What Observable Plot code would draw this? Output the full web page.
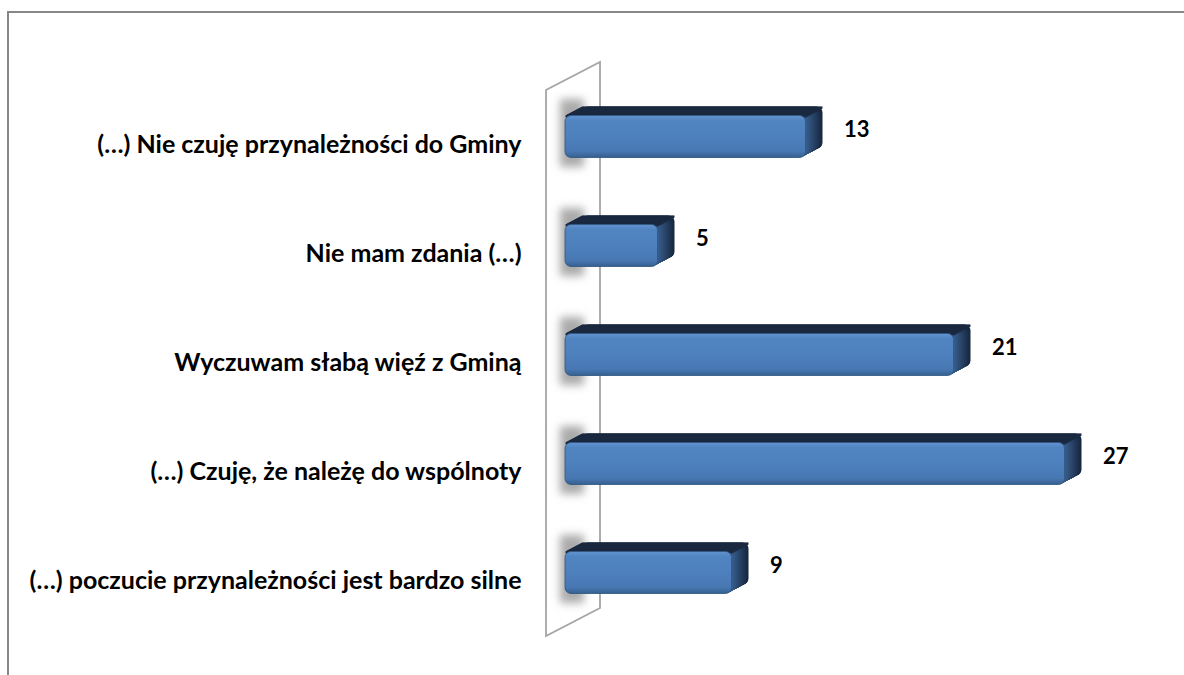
<!DOCTYPE html>
<html><head><meta charset="utf-8">
<script src="https://cdn.jsdelivr.net/npm/d3@7"></script>
<script src="https://cdn.jsdelivr.net/npm/@observablehq/plot@0.6"></script>
<style>
html,body{margin:0;padding:0;background:#fff;overflow:hidden;}
#wrap{position:relative;width:1184px;height:675px;}
#wrap svg{position:absolute;left:0;top:0;}
#border{position:absolute;left:7px;top:11px;width:1300px;height:800px;border-top:2px solid #878787;border-left:2px solid #878787;pointer-events:none;}
</style></head><body><div id="wrap"></div>
<script>
const categories = [
  "(…) Nie czuję przynależności do Gminy",
  "Nie mam zdania (…)",
  "Wyczuwam słabą więź z Gminą",
  "(…) Czuję, że należę do wspólnoty",
  "(…) poczucie przynależności jest bardzo silne"
];
const values = [13, 5, 21, 27, 9];
const xDomain = [0, 30];

const data = categories.map((c, i) => ({category: c, value: values[i]}));

const N = 34, DX = 17, DY = 9;
const BAND = 109, INSET = 33.5;
const sideMarks = [], topMarks = [];
const sideColor = d3.interpolateRgb("#3a6091", "#16263d");
for (let i = N; i >= 1; i--) {
  sideMarks.push(Plot.barX(data, {
    x: "value", y: "category", insetTop: INSET, insetBottom: INSET, rx: 6,
    dx: i * DX / N, dy: -i * DY / N, fill: sideColor(i / N)
  }));
}
for (let i = N; i >= 1; i--) {
  topMarks.push(Plot.barX(data, {
    x: "value", y: "category", insetTop: INSET, insetBottom: BAND - INSET - 2.2,
    dx: i * DX / N, dy: -i * DY / N, fill: "#1b2a40"
  }));
}

function wall(index, scales, values, dims) {
  const x0 = scales.x(0);
  const top = dims.marginTop, bottom = dims.height - dims.marginBottom;
  const fx = x0 - 19, bx = x0 + 35;
  const pts = [[fx, top + 8.5], [bx, top - 19.5], [bx, bottom - 18.5], [fx, bottom + 9.5]];
  const g = d3.create("svg:g");
  g.append("polygon")
    .attr("points", pts.map(p => p.join(",")).join(" "))
    .attr("fill", "#fff").attr("stroke", "#a5a5a5").attr("stroke-width", 1.8);
  return g.node();
}

const plot = Plot.plot({
  width: 1184,
  height: 675,
  marginTop: 81.5,
  marginBottom: 48.5,
  marginLeft: 565,
  marginRight: 64,
  style: {fontFamily: "Lato, 'Open Sans', sans-serif", background: "transparent"},
  x: {domain: xDomain, axis: null},
  y: {type: "band", domain: categories, padding: 0, axis: null},
  marks: [
    wall,
    Plot.barX(data, {
      x1: d => 0, x2: d => 0, y: "category",
      insetLeft: -5, insetRight: -19, insetTop: 17, insetBottom: 24,
      fill: "#9c9c9c", fillOpacity: 0.85, ariaDescription: "shadow"
    }),
    ...sideMarks,
    ...topMarks,
    Plot.barX(data, {
      x: "value", y: "category", insetTop: INSET, insetBottom: INSET, rx: 6,
      fill: "url(#frontGrad)", stroke: "#31577f", strokeWidth: 0.8
    }),
    Plot.text(data, {
      x: "value", y: "category", text: d => String(d.value),
      textAnchor: "start", dx: 38, dy: -7,
      fontSize: 22, fontWeight: "bold", fill: "#000"
    }),
    Plot.text(data, {
      y: "category", text: "category", frameAnchor: "left",
      textAnchor: "end", dx: -44, dy: 8,
      fontSize: 25, fontWeight: "bold", fill: "#000"
    })
  ]
});

const svg = d3.select(plot);
const defs = svg.insert("defs", ":first-child");
const fg = defs.append("linearGradient").attr("id", "frontGrad")
  .attr("x1", 0).attr("y1", 0).attr("x2", 0).attr("y2", 1);
[[0, "#6193cf"], [0.12, "#5185c2"], [0.5, "#4d80bd"], [0.85, "#4878b3"], [1, "#35608f"]]
  .forEach(([o, c]) => fg.append("stop").attr("offset", o).attr("stop-color", c));
const flt = defs.append("filter").attr("id", "shadowBlur")
  .attr("x", "-50%").attr("y", "-50%").attr("width", "200%").attr("height", "200%");
flt.append("feGaussianBlur").attr("stdDeviation", 4);
svg.selectAll('g[aria-description="shadow"]').attr("filter", "url(#shadowBlur)");

const wrap = document.getElementById("wrap");
wrap.appendChild(plot);
const border = document.createElement("div");
border.id = "border";
wrap.appendChild(border);
</script>
</body></html>
